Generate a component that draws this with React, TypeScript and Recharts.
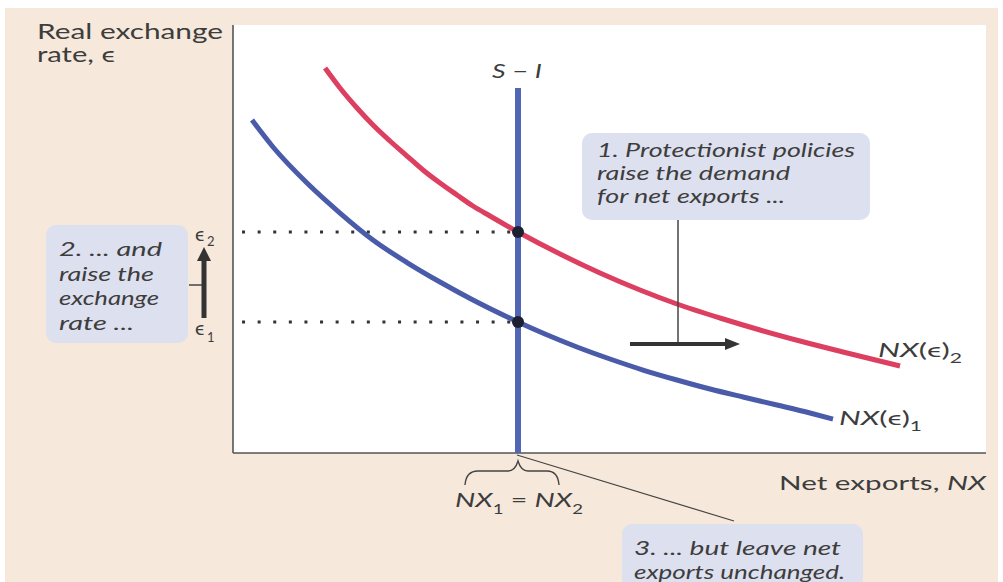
import React from 'react';
import { ComposedChart, Line, XAxis, YAxis, ReferenceLine, ReferenceDot } from 'recharts';

// NX(ε)1 demand curve (blue)
const nx1Curve = [
  { x: 2.52, y: 77.8 },
  { x: 5.31, y: 71.5 },
  { x: 9.83, y: 63.08 },
  { x: 14.21, y: 56.07 },
  { x: 18.59, y: 49.77 },
  { x: 23.11, y: 44.5 },
  { x: 27.49, y: 39.95 },
  { x: 31.87, y: 35.75 },
  { x: 37.85, y: 30.61 },
  { x: 41.43, y: 27.8 },
  { x: 45.68, y: 24.77 },
  { x: 50.07, y: 21.96 },
  { x: 54.45, y: 19.39 },
  { x: 58.96, y: 17.06 },
  { x: 63.35, y: 14.95 },
  { x: 67.73, y: 13.08 },
  { x: 72.24, y: 11.21 },
  { x: 76.63, y: 9.35 },
  { x: 79.68, y: 7.94 },
];

// NX(ε)2 demand curve (red)
const nx2Curve = [
  { x: 12.22, y: 89.95 },
  { x: 14.21, y: 85.28 },
  { x: 16.47, y: 80.61 },
  { x: 18.59, y: 76.64 },
  { x: 20.85, y: 72.9 },
  { x: 23.11, y: 69.39 },
  { x: 25.23, y: 66.12 },
  { x: 27.49, y: 63.08 },
  { x: 29.75, y: 60.28 },
  { x: 31.87, y: 57.71 },
  { x: 34.13, y: 55.37 },
  { x: 37.85, y: 51.64 },
  { x: 43.43, y: 46.5 },
  { x: 48.74, y: 42.06 },
  { x: 54.05, y: 38.08 },
  { x: 58.96, y: 34.81 },
  { x: 64.67, y: 31.54 },
  { x: 69.99, y: 28.74 },
  { x: 75.3, y: 26.17 },
  { x: 81.01, y: 23.6 },
  { x: 88.58, y: 20.33 },
];

const NX_EQ = 37.85; // S - I
const S_I_TOP = 85.3;
const EPS1 = 30.61;
const EPS2 = 51.64;
const DOT_START = 1.2;

const TXT = '#3d3d3d';
const BOX = '#dde0ef';
const FONT = 'Lato, "Open Sans", sans-serif';

const T = (p: any) => (
  <text
    x={p.x}
    y={p.y}
    fontSize={p.size || 20}
    fontStyle={p.italic ? 'italic' : 'normal'}
    fill={TXT}
    fontFamily={FONT}
    textLength={p.w}
    lengthAdjust="spacingAndGlyphs"
  >
    {p.children}
  </text>
);

export default function App() {
  return (
    <div style={{ position: 'absolute', left: 0, top: 0, width: 1003, height: 582, background: '#ffffff', overflow: 'hidden' }}>
      <div style={{ position: 'absolute', left: 5, top: 8, width: 993, height: 574, background: '#f6e8db' }} />
      <div style={{ position: 'absolute', left: 233, top: 25, width: 753, height: 428, background: '#ffffff' }} />
      <div style={{ position: 'absolute', left: 0, top: 0 }}>
        <ComposedChart width={1003} height={582} margin={{ top: 25, right: 17, bottom: 129, left: 233 }}>
          <XAxis type="number" dataKey="x" domain={[0, 100]} hide />
          <YAxis type="number" dataKey="y" domain={[0, 100]} hide />
          <ReferenceLine x={0} stroke="#555" strokeWidth={1.6} />
          <ReferenceLine y={0} stroke="#555" strokeWidth={1.6} />
          <ReferenceLine
            segment={[{ x: DOT_START, y: EPS2 }, { x: NX_EQ, y: EPS2 }]}
            stroke="#333"
            strokeWidth={3}
            strokeDasharray="3 12.6"
          />
          <ReferenceLine
            segment={[{ x: DOT_START, y: EPS1 }, { x: NX_EQ, y: EPS1 }]}
            stroke="#333"
            strokeWidth={3}
            strokeDasharray="3 12.6"
          />
          <Line
            data={nx1Curve}
            dataKey="y"
            type="monotone"
            stroke="#4a5ba9"
            strokeWidth={5}
            dot={false}
            activeDot={false}
            isAnimationActive={false}
          />
          <Line
            data={nx2Curve}
            dataKey="y"
            type="monotone"
            stroke="#dc3f60"
            strokeWidth={5}
            dot={false}
            activeDot={false}
            isAnimationActive={false}
          />
          <ReferenceLine
            segment={[{ x: NX_EQ, y: 0 }, { x: NX_EQ, y: S_I_TOP }]}
            stroke="#5366b6"
            strokeWidth={6}
          />
          <ReferenceDot x={NX_EQ} y={EPS2} r={6} fill="#1d2030" stroke="none" />
          <ReferenceDot x={NX_EQ} y={EPS1} r={6} fill="#1d2030" stroke="none" />
        </ComposedChart>
      </div>
      <svg width={1003} height={582} style={{ position: 'absolute', left: 0, top: 0 }}>
        {/* axis titles */}
        <T x={37} y={39} w={186} size={21}>Real exchange</T>
        <T x={37} y={62} w={78} size={21}>rate, ϵ</T>
        <T x={779} y={490} w={207} size={20}>
          Net exports, <tspan fontStyle="italic">NX</tspan>
        </T>
        <T x={492} y={78} w={50} size={20}>
          <tspan fontStyle="italic">S</tspan> − <tspan fontStyle="italic">I</tspan>
        </T>

        {/* box 1 */}
        <rect x={582} y={133} width={288} height={87} rx={10} fill={BOX} />
        <T x={597} y={157} w={258} size={19} italic>1. Protectionist policies</T>
        <T x={597} y={180} w={193} size={19} italic>raise the demand</T>
        <T x={597} y={203} w={188} size={19} italic>for net exports ...</T>
        <line x1={678} y1={220} x2={678} y2={344} stroke="#444" strokeWidth={1.5} />
        <line x1={630} y1={344} x2={728} y2={344} stroke="#333" strokeWidth={4} />
        <polygon points="725,338 740,344 725,350" fill="#333" />

        {/* box 2 */}
        <rect x={46} y={225} width={142} height={118} rx={10} fill={BOX} />
        <T x={59} y={256} w={103} size={20} italic>2. ... and</T>
        <T x={59} y={281} w={95} size={20} italic>raise the</T>
        <T x={59} y={305} w={100} size={20} italic>exchange</T>
        <T x={59} y={330} w={75} size={20} italic>rate ...</T>
        <line x1={189} y1={285} x2={202} y2={285} stroke="#444" strokeWidth={1.5} />
        <line x1={204} y1={318} x2={204} y2={258} stroke="#333" strokeWidth={5} />
        <polygon points="197,261 204,247 211,261" fill="#333" />
        <T x={195} y={241} size={20}>ϵ</T>
        <T x={207} y={246} size={13}>2</T>
        <T x={195} y={335} size={20}>ϵ</T>
        <T x={207} y={342} size={13}>1</T>

        {/* box 3 */}
        <rect x={622} y={524} width={241} height={66} rx={10} fill={BOX} />
        <T x={634} y={555} w={207} size={20} italic>3. ... but leave net</T>
        <T x={634} y={579} w={211} size={20} italic>exports unchanged.</T>
        <line x1={517} y1={455} x2={734} y2={521} stroke="#444" strokeWidth={1.2} />

        {/* NX1 = NX2 with brace */}
        <path
          d="M465,485 Q466,471 478,471 L508,471 Q515,471 518,461 Q521,471 528,471 L547,471 Q558,471 559,485"
          stroke="#444"
          strokeWidth={1.4}
          fill="none"
        />
        <T x={455} y={507} w={128} size={20}>
          <tspan fontStyle="italic">NX</tspan>
          <tspan dy={7} fontSize={13}>1</tspan>
          <tspan dy={-7}> = </tspan>
          <tspan fontStyle="italic">NX</tspan>
          <tspan dy={7} fontSize={13}>2</tspan>
        </T>

        {/* curve labels */}
        <T x={878} y={357} w={84} size={19}>
          <tspan fontStyle="italic">NX</tspan>(ϵ)<tspan dy={6} fontSize={13}>2</tspan>
        </T>
        <T x={839} y={425} w={83} size={19}>
          <tspan fontStyle="italic">NX</tspan>(ϵ)<tspan dy={6} fontSize={13}>1</tspan>
        </T>
      </svg>
    </div>
  );
}
